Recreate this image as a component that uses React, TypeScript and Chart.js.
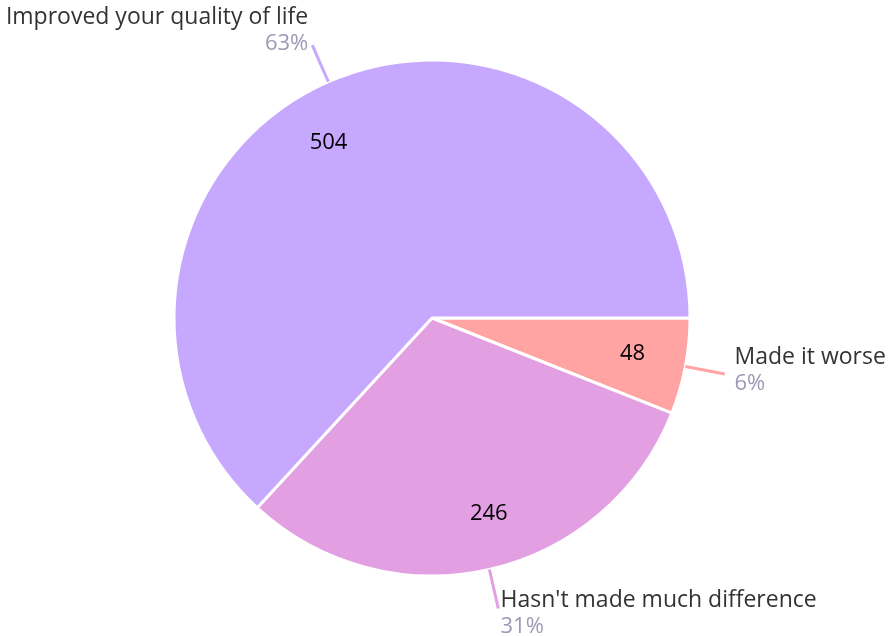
import React, { useEffect, useRef } from "react";
import { Chart, registerables } from "chart.js";

Chart.register(...registerables);

const categories = ["Made it worse", "Hasn't made much difference", "Improved your quality of life"];
const values = [48, 246, 504];
const colors = ["#FFA3A3", "#E2A0E2", "#C7A8FF"];

const FONT = "'Open Sans', sans-serif";

const labelPlugin = {
  id: "outerLabels",
  afterDatasetsDraw(chart: any) {
    const ctx = chart.ctx;
    const meta = chart.getDatasetMeta(0);
    const total = values.reduce((a, b) => a + b, 0);
    meta.data.forEach((arc: any, i: number) => {
      const { x, y, startAngle, endAngle, outerRadius } = arc.getProps(
        ["x", "y", "startAngle", "endAngle", "outerRadius"],
        true
      );
      const mid = (startAngle + endAngle) / 2;
      const c = Math.cos(mid);
      const s = Math.sin(mid);
      // value inside
      ctx.save();
      ctx.fillStyle = "#000";
      ctx.font = `22px ${FONT}`;
      ctx.textAlign = "center";
      ctx.textBaseline = "middle";
      const va = startAngle + (endAngle - startAngle) * 0.47;
      const vr = outerRadius * 0.79;
      ctx.fillText(String(values[i]), x + Math.cos(va) * vr, y + Math.sin(va) * vr);
      // leader line
      ctx.strokeStyle = colors[i];
      ctx.lineWidth = 3;
      ctx.beginPath();
      ctx.moveTo(x + c * outerRadius, y + s * outerRadius);
      ctx.lineTo(x + c * (outerRadius + 40), y + s * (outerRadius + 40));
      ctx.stroke();
      // texts
      const ax = x + c * (outerRadius + 50);
      const ay = y + s * (outerRadius + 50);
      ctx.textAlign = c >= 0 ? "left" : "right";
      ctx.fillStyle = "#333333";
      ctx.font = `23px ${FONT}`;
      ctx.fillText(categories[i], ax, ay - 18);
      ctx.fillStyle = "#9A9AB5";
      ctx.font = `22px ${FONT}`;
      ctx.fillText(Math.round((values[i] / total) * 100) + "%", ax, ay + 8);
      ctx.restore();
    });
  },
};

export default function App() {
  const ref = useRef<HTMLCanvasElement>(null);
  useEffect(() => {
    document.body.style.margin = "0";
    const chart = new Chart(ref.current!, {
      type: "pie",
      data: {
        labels: categories,
        datasets: [
          {
            data: values,
            backgroundColor: colors,
            borderColor: "#ffffff",
            borderWidth: 3,
            hoverOffset: 0,
          },
        ],
      },
      options: {
        responsive: false,
        animation: false,
        rotation: 90,
        radius: 258,
        layout: { padding: { left: 174, right: 198, top: 60, bottom: 60 } },
        plugins: { legend: { display: false }, tooltip: { enabled: false } },
      },
      plugins: [labelPlugin],
    });
    return () => chart.destroy();
  }, []);
  return <canvas ref={ref} width={888} height={636} style={{ display: "block" }} />;
}
